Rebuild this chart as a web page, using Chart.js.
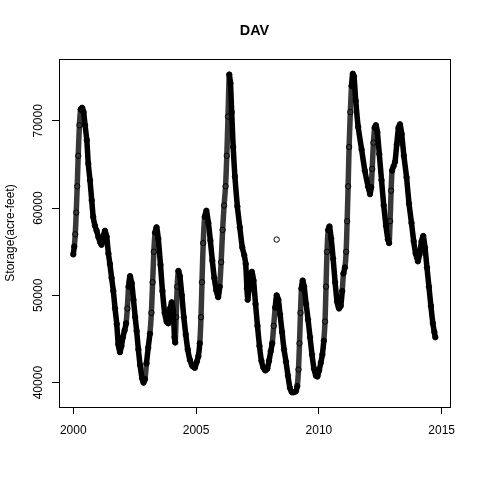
<!DOCTYPE html>
<html>
<head>
<meta charset="utf-8">
<title>DAV</title>
<script src="https://cdn.jsdelivr.net/npm/chart.js@4/dist/chart.umd.min.js"></script>
<style>
  html, body { margin: 0; padding: 0; background: #fff; }
  canvas { display: block; }
</style>
</head>
<body>
<canvas id="storageChart" width="480" height="480"></canvas>
<script>
// Storage readings (decimal year, acre-feet)
const years = [
  2000.00, 2000.04, 2000.08, 2000.12, 2000.16, 2000.20, 2000.25, 2000.30, 2000.36, 2000.42,
  2000.48, 2000.55, 2000.61, 2000.68, 2000.75, 2000.81, 2000.88, 2000.95, 2001.02, 2001.09,
  2001.15, 2001.22, 2001.29, 2001.36, 2001.43, 2001.49, 2001.56, 2001.63, 2001.70, 2001.77,
  2001.83, 2001.90, 2001.96, 2002.02, 2002.09, 2002.15, 2002.20, 2002.25, 2002.31, 2002.38,
  2002.45, 2002.52, 2002.58, 2002.65, 2002.72, 2002.80, 2002.86, 2002.92, 2002.98, 2003.05,
  2003.12, 2003.18, 2003.23, 2003.28, 2003.33, 2003.39, 2003.46, 2003.55, 2003.63, 2003.72,
  2003.80, 2003.87, 2003.94, 2004.01, 2004.07, 2004.12, 2004.15, 2004.19, 2004.23, 2004.28,
  2004.34, 2004.42, 2004.50, 2004.58, 2004.66, 2004.75, 2004.85, 2004.95, 2005.03, 2005.09,
  2005.15, 2005.20, 2005.24, 2005.29, 2005.35, 2005.42, 2005.50, 2005.58, 2005.66, 2005.74,
  2005.82, 2005.90, 2005.96, 2006.02, 2006.08, 2006.14, 2006.20, 2006.25, 2006.30, 2006.35,
  2006.40, 2006.45, 2006.51, 2006.58, 2006.68, 2006.78, 2006.88, 2006.96, 2007.02, 2007.07,
  2007.10, 2007.15, 2007.21, 2007.27, 2007.34, 2007.42, 2007.50, 2007.58, 2007.66, 2007.74,
  2007.82, 2007.90, 2007.97, 2008.04, 2008.10, 2008.16, 2008.22, 2008.28, 2008.35, 2008.42,
  2008.50, 2008.58, 2008.66, 2008.74, 2008.82, 2008.90, 2008.98, 2009.06, 2009.12, 2009.17,
  2009.21, 2009.25, 2009.29, 2009.34, 2009.40, 2009.48, 2009.56, 2009.64, 2009.72, 2009.80,
  2009.88, 2009.94, 2010.01, 2010.08, 2010.14, 2010.20, 2010.25, 2010.29, 2010.33, 2010.38,
  2010.43, 2010.50, 2010.58, 2010.66, 2010.74, 2010.82, 2010.89, 2010.95, 2011.00, 2011.06,
  2011.11, 2011.15, 2011.19, 2011.23, 2011.28, 2011.33, 2011.38, 2011.43, 2011.50, 2011.60,
  2011.74, 2011.87, 2012.00, 2012.08, 2012.13, 2012.17, 2012.22, 2012.27, 2012.32, 2012.38,
  2012.46, 2012.55, 2012.64, 2012.73, 2012.81, 2012.86, 2012.90, 2012.94, 2012.98, 2013.04,
  2013.10, 2013.17, 2013.24, 2013.30, 2013.37, 2013.46, 2013.57, 2013.67, 2013.77, 2013.86,
  2013.94, 2014.03, 2014.10, 2014.18, 2014.25, 2014.32, 2014.40, 2014.48, 2014.56, 2014.64,
  2014.70, 2014.74
];
const storage = [
  54700, 55600, 57000, 59500, 62500, 66000, 69500, 71300, 71500, 71000,
  69500, 67800, 65100, 63200, 60900, 59000, 58000, 57400, 56700, 56100,
  55800, 56800, 57400, 56700, 54800, 53600, 52000, 50500, 48500, 46700,
  44400, 43500, 44200, 45200, 46000, 46800, 48500, 51000, 52200, 51400,
  49500, 47500, 45900, 43800, 42000, 40500, 40000, 40400, 42200, 44000,
  45600, 48000, 51500, 55000, 57200, 57800, 56500, 53500, 50500, 48000,
  47000, 46800, 48500, 49200, 48200, 45200, 44600, 47500, 51000, 52800,
  52200, 50000, 47500, 45500, 43800, 42600, 41900, 41700, 42400, 43000,
  44500, 47500, 51500, 56000, 59000, 59700, 58300, 56300, 54000, 52000,
  50600, 49800, 51000, 53800, 57500, 60300, 62500, 66000, 70500, 75300,
  74300, 71000, 67000, 63600, 60200, 57800, 55500, 54600, 53600, 50800,
  49500, 50600, 52300, 52700, 51700, 49000, 46500, 44200, 42500, 41700,
  41400, 41600, 42500, 43600, 44500, 46500, 48600, 50000, 49500, 47800,
  45800, 43800, 42400, 40800, 39400, 38900, 38900, 39000, 39600, 41500,
  44500, 48000, 50800, 51700, 51000, 49000, 47200, 45200, 43200, 41600,
  40800, 40700, 41400, 42300, 43200, 44800, 47000, 51000, 55000, 57500,
  57900, 56500, 54200, 51500, 49300, 48500, 48800, 50500, 52500, 53200,
  55000, 58500, 62500, 67000, 71000, 74000, 75400, 75100, 72300, 69300,
  66700, 64300, 62500, 61600, 62400, 64500, 67500, 69200, 69500, 68700,
  66200, 63200, 60300, 58000, 56400, 56000, 58500, 62000, 64300, 64800,
  65300, 67300, 69200, 69600, 68500, 66000, 63500, 60500, 58300, 56200,
  54800, 53900, 54700, 56200, 56800, 55500, 53200, 51000, 48800, 46800,
  45800, 45200
];

// lone reading away from the curve
const outlierYears = [2008.28];
const outlierStorage = [56400];

// axis ticks
const xTicks = [2000, 2005, 2010, 2015];
const yTicks = [40000, 50000, 60000, 70000];

Chart.defaults.font.family = "'Liberation Sans', Arial, Helvetica, sans-serif";
Chart.defaults.color = '#000';

// fast refills show up as a chain of open circles rather than a solid band
function riseColor(seg) {
  const rate = (seg.p1.parsed.y - seg.p0.parsed.y) / (seg.p1.parsed.x - seg.p0.parsed.x);
  return rate > 30000 ? 'rgba(0,0,0,0.78)' : undefined;
}

// box around the plot region + rotated y labels (R style)
const rStyleAxes = {
  id: 'rStyleAxes',
  afterDraw(chart) {
    const ctx = chart.ctx;
    const area = chart.chartArea;
    const yScale = chart.scales.y;
    ctx.save();
    ctx.strokeStyle = '#000';
    ctx.lineWidth = 1;
    ctx.strokeRect(Math.round(area.left) + 0.5, Math.round(area.top) + 0.5,
      Math.round(area.right - area.left), Math.round(area.bottom - area.top));

    ctx.fillStyle = '#000';
    ctx.font = "12px 'Liberation Sans', Arial, sans-serif";
    ctx.textAlign = 'center';
    ctx.textBaseline = 'middle';
    yTicks.forEach(v => {
      const y = yScale.getPixelForValue(v);
      ctx.save();
      ctx.translate(area.left - 20, y);
      ctx.rotate(-Math.PI / 2);
      ctx.fillText(String(v), 0, 0);
      ctx.restore();
    });
    ctx.restore();
  }
};

const ctx = document.getElementById('storageChart').getContext('2d');
new Chart(ctx, {
  type: 'scatter',
  data: {
    datasets: [
      {
        label: 'Storage',
        data: years.map((x, i) => ({ x: x, y: storage[i] })),
        showLine: true,
        borderColor: '#000',
        borderWidth: 5.5,
        borderJoinStyle: 'round',
        borderCapStyle: 'round',
        tension: 0.2,
        segment: { borderColor: riseColor },
        pointRadius: 2.7,
        pointBorderWidth: 1,
        pointBorderColor: '#000',
        pointBackgroundColor: 'rgba(0,0,0,0)'
      },
      {
        label: 'Outlier',
        data: outlierYears.map((x, i) => ({ x: x, y: outlierStorage[i] })),
        showLine: false,
        pointRadius: 2.7,
        pointBorderWidth: 1,
        pointBorderColor: '#000',
        pointBackgroundColor: 'rgba(0,0,0,0)'
      }
    ]
  },
  options: {
    responsive: false,
    animation: false,
    layout: { padding: { left: 0, right: 30, top: 0, bottom: 33.6 } },
    plugins: {
      legend: { display: false },
      tooltip: { enabled: false },
      title: {
        display: true,
        text: 'DAV',
        fullSize: false,
        color: '#000',
        font: { size: 14.4, weight: 'bold' },
        padding: { top: 22, bottom: 19.7 }
      }
    },
    scales: {
      x: {
        type: 'linear',
        position: 'bottom',
        min: 1999.418,
        max: 2015.338,
        afterBuildTicks: scale => { scale.ticks = xTicks.map(v => ({ value: v })); },
        ticks: {
          autoSkip: false,
          maxRotation: 0,
          padding: 9,
          font: { size: 12 },
          color: '#000',
          callback: v => String(v)
        },
        grid: { drawOnChartArea: false, drawTicks: true, tickLength: 7, color: '#000' },
        border: { display: false }
      },
      y: {
        type: 'linear',
        position: 'left',
        min: 37207,
        max: 77092,
        afterBuildTicks: scale => { scale.ticks = yTicks.map(v => ({ value: v })); },
        ticks: { display: false },
        grid: { drawOnChartArea: false, drawTicks: true, tickLength: 7, color: '#000' },
        border: { display: false },
        title: {
          display: true,
          text: 'Storage(acre-feet)',
          color: '#000',
          font: { size: 12 },
          padding: { top: 3, bottom: 34.6 }
        }
      }
    }
  },
  plugins: [rStyleAxes]
});
</script>
</body>
</html>
